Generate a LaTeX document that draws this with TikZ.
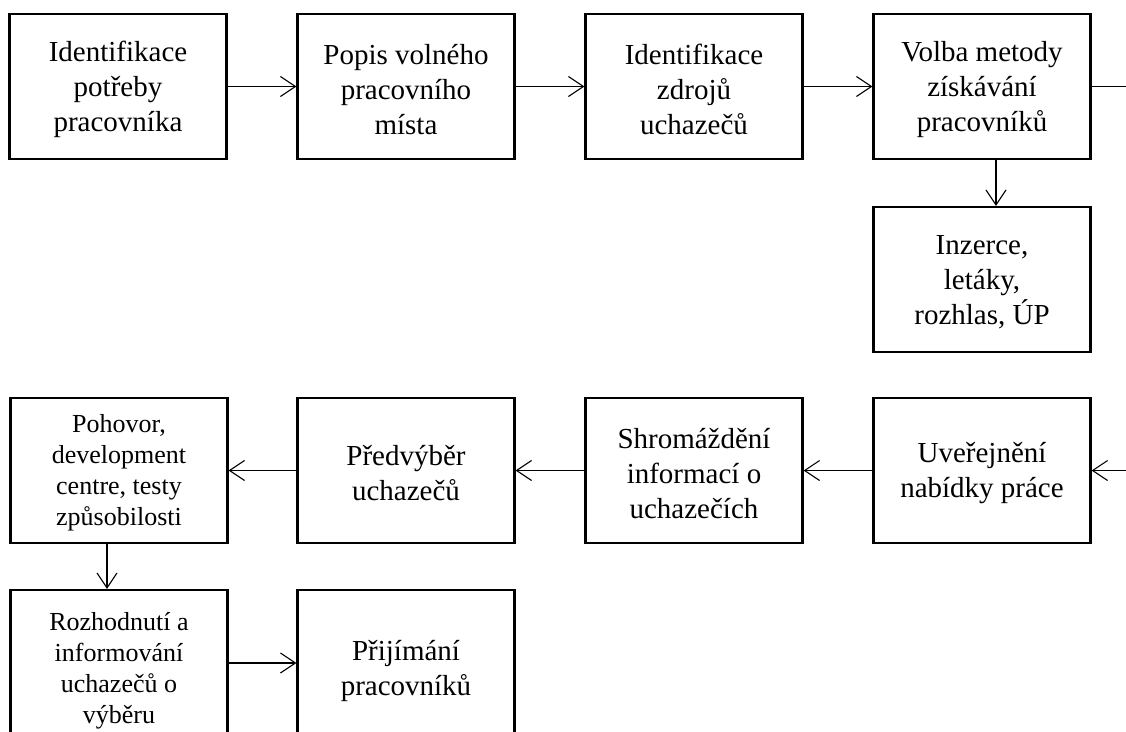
\documentclass[tikz,border=0pt]{standalone}
\usepackage{fontspec}
\setmainfont{Liberation Serif}
\usetikzlibrary{arrows.meta}
\begin{document}
\begin{tikzpicture}[x=1pt,y=-1pt,
  box/.style={draw, line width=2.2pt, rectangle, inner sep=0pt,
    minimum width=217pt, minimum height=145pt},
  txt/.style={align=center, inner sep=0pt, yshift=-3pt,
    font=\fontsize{29}{35}\selectfont},
  smalltxt/.style={txt, yshift=1pt, font=\fontsize{26}{31}\selectfont},
  link/.style={line width=1.1pt, -{Straight Barb[length=15pt,width=20pt]}}]
\useasboundingbox (0,0) rectangle (1126,731);
\clip (0,0) rectangle (1126,731);

% first row
\node[box, label={[txt]center:{Identifikace\\potřeby\\pracovníka}}] (potreba) at (118,86.5) {};
\node[box, label={[txt]center:{Popis volného\\pracovního\\místa}}] (popis) at (406,86.5) {};
\node[box, label={[txt]center:{Identifikace\\zdrojů\\uchazečů}}] (zdroje) at (694,86.5) {};
\node[box, label={[txt]center:{Volba metody\\získávání\\pracovníků}}] (volba) at (982,86.5) {};
\node[box, label={[txt]center:{Inzerce,\\letáky,\\rozhlas, ÚP}}] (inzerce) at (982,279.5) {};

% second row
\node[box, label={[txt]center:{Uveřejnění\\nabídky práce}}] (uver) at (982,470.5) {};
\node[box, label={[txt]center:{Shromáždění\\informací o\\uchazečích}}] (shrom) at (694,470.5) {};
\node[box, label={[txt]center:{Předvýběr\\uchazečů}}] (predv) at (406,470.5) {};
\node[box, label={[smalltxt]center:{Pohovor,\\development\\centre, testy\\způsobilosti}}] (pohovor) at (119,470.5) {};

% third row, running past the lower edge
\node[box, minimum height=155pt, label={[smalltxt, yshift=-1pt]center:{Rozhodnutí a\\informování\\uchazečů o\\výběru}}] (rozhod) at (119,667.5) {};
\node[box, minimum height=155pt, label={[txt]center:{Přijímání\\pracovníků}}] (prijem) at (406,667.5) {};

% continuation points at the right edge
\coordinate (outR) at (1135,86.5);
\coordinate (inR)  at (1135,470.5);

\draw[link] (potreba) -- (popis);
\draw[link] (popis) -- (zdroje);
\draw[link] (zdroje) -- (volba);
\draw[line width=1.1pt] (volba) -- (outR);
\draw[link] ([xshift=14pt]volba.south) -- ([xshift=14pt]inzerce.north);
\draw[link] (inR) -- (uver);
\draw[link] (uver) -- (shrom);
\draw[link] (shrom) -- (predv);
\draw[link] (predv) -- (pohovor);
\draw[link] ([xshift=-12pt]pohovor.south) -- ([xshift=-12pt]rozhod.north);
\draw[link] (rozhod.east |- 0,663) -- (prijem.west |- 0,663);
\end{tikzpicture}
\end{document}
